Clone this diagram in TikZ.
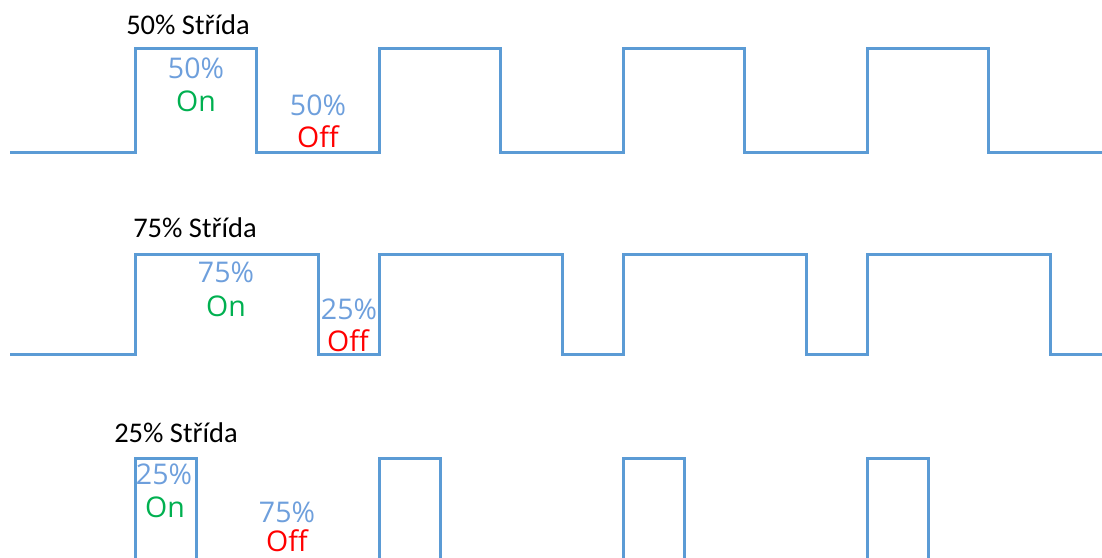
\documentclass[tikz,border=0pt]{standalone}
\usepackage{fontspec}
\setmainfont{Carlito}
\newfontfamily\labelfont{Open Sans}
\definecolor{waveblue}{HTML}{5B9BD5}
\definecolor{pctblue}{HTML}{6E9FDC}
\definecolor{ongreen}{HTML}{00B050}
\definecolor{offred}{HTML}{FF0000}

\begin{document}
\begin{tikzpicture}[x=1pt, y=-1pt,
    wave/.style={line width=3pt, waveblue, line join=miter},
    title/.style={font=\fontsize{28.5}{30}\selectfont, inner sep=0pt},
    pct/.style={font=\labelfont\fontsize{28.5}{30}\selectfont, pctblue, inner sep=0pt},
    ontxt/.style={font=\labelfont\fontsize{28.5}{30}\selectfont, ongreen, inner sep=0pt},
    offtxt/.style={font=\labelfont\fontsize{28.5}{30}\selectfont, offred, inner sep=0pt}]
  % Page frame
  \useasboundingbox (0,0) rectangle (1102,557);
  \clip (0,0) rectangle (1102,557);
  % 50% duty cycle
  \draw[wave] (10,152) \foreach \x in {135,379,623,867}
    { -- (\x,152) -- (\x,48) -- ({\x+121},48) -- ({\x+121},152) } -- (1102,152);
  \node[title] (title50) at (188,25) {50\% Střída};
  \node[pct] (on50pct) at (196,68) {50\%};
  \node[ontxt] (on50) at (196,101) {On};
  \node[pct] (off50pct) at (318,105) {50\%};
  \node[offtxt] (off50) at (318,137) {Off};
  % 75% duty cycle
  \draw[wave] (10,354) \foreach \x in {135,379,623,867}
    { -- (\x,354) -- (\x,254) -- ({\x+183},254) -- ({\x+183},354) } -- (1102,354);
  \node[title] (title75) at (195,228) {75\% Střída};
  \node[pct] (on75pct) at (226,272) {75\%};
  \node[ontxt] (on75) at (226,306) {On};
  \node[pct] (off75pct) at (349,309) {25\%};
  \node[offtxt] (off75) at (348,341) {Off};
  % 25% duty cycle (cut off at the bottom)
  \draw[wave] (10,600) \foreach \x in {135,379,623,867}
    { -- (\x,600) -- (\x,458) -- ({\x+61},458) -- ({\x+61},600) } -- (1102,600);
  \node[title] (title25) at (176,433) {25\% Střída};
  \node[pct] (on25pct) at (164,474) {25\%};
  \node[ontxt] (on25) at (165,507) {On};
  \node[pct] (off25pct) at (287,512) {75\%};
  \node[offtxt] (off25) at (287,541) {Off};
\end{tikzpicture}
\end{document}
